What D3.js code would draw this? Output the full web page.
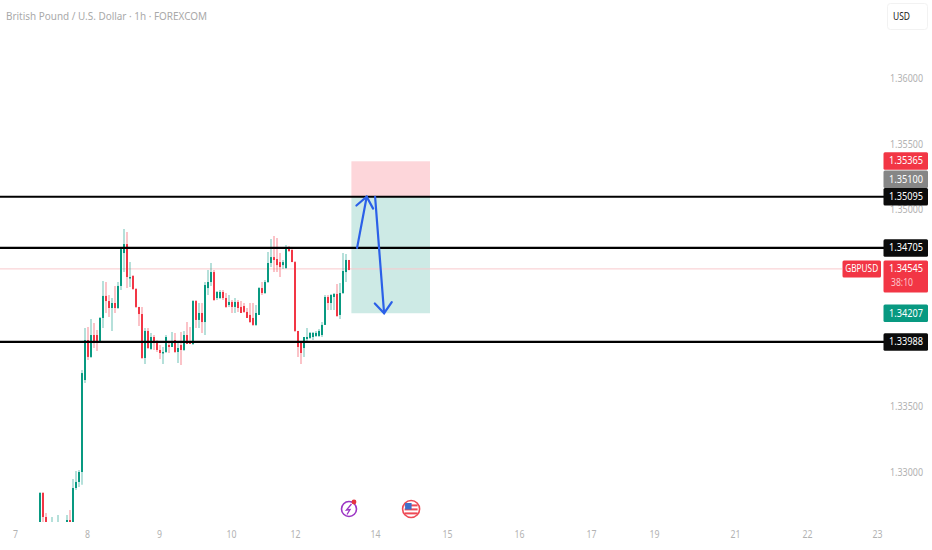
<!DOCTYPE html>
<html>
<head>
<meta charset="utf-8">
<script src="https://cdn.jsdelivr.net/npm/d3@7"></script>
<style>
html, body { margin: 0; padding: 0; background: #fff; overflow: hidden; }
text { font-family: "Noto Sans", sans-serif; lengthAdjust: spacingAndGlyphs; }
</style>
</head>
<body>
<svg id="chart" width="932" height="550"></svg>
<script>
const title = 'British Pound / U.S. Dollar · 1h · FOREXCOM';

// hourly candles (first ones run below the pane)
const opens = [1.32550,1.32837,1.32654,1.32550,1.32560,1.32580,1.32540,1.32570,1.32550,1.32580,1.32631,1.32590,1.32875,1.32921,1.32997,1.33698,
  1.34003,1.33874,1.34041,1.34041,1.33988,1.34171,1.34339,1.34300,1.34247,1.34285,1.34247,1.34415,1.34666,1.34734,1.34476,1.34491,
  1.34392,1.34255,1.34201,1.33866,1.34072,1.33935,1.34026,1.33980,1.33927,1.33904,1.33912,1.33965,1.33950,1.34003,1.33912,1.33965,
  1.33927,1.34041,1.33988,1.33973,1.34300,1.34156,1.34209,1.34140,1.34399,1.34445,1.34521,1.34323,1.34323,1.34369,1.34323,1.34270,
  1.34293,1.34255,1.34293,1.34255,1.34262,1.34217,1.34194,1.34171,1.34118,1.34194,1.34399,1.34361,1.34445,1.34590,1.34635,1.34620,
  1.34597,1.34574,1.34552,1.34704,1.34689,1.34597,1.34072,1.33988,1.33942,1.34011,1.34019,1.34026,1.34034,1.34034,1.34041,1.34118,
  1.34331,1.34285,1.34331,1.34354,1.34194,1.34361,1.34521,1.34613];
const highs = [1.32844,1.32844,1.32684,1.32580,1.32654,1.32600,1.32669,1.32610,1.32600,1.32669,1.32707,1.32944,1.33004,1.33012,1.33774,1.34095,
  1.34102,1.34163,1.34133,1.34079,1.34179,1.34453,1.34445,1.34346,1.34323,1.34415,1.34445,1.34704,1.34849,1.34826,1.34597,1.34498,
  1.34399,1.34255,1.34255,1.34095,1.34095,1.34057,1.34041,1.34003,1.33965,1.33950,1.34041,1.33988,1.34064,1.34057,1.33980,1.34064,
  1.34072,1.34140,1.34102,1.34308,1.34308,1.34285,1.34285,1.34445,1.34536,1.34590,1.34536,1.34377,1.34384,1.34384,1.34361,1.34346,
  1.34308,1.34323,1.34308,1.34300,1.34285,1.34247,1.34285,1.34285,1.34270,1.34407,1.34445,1.34460,1.34674,1.34772,1.34795,1.34780,
  1.34666,1.34613,1.34727,1.34719,1.34704,1.34605,1.34072,1.33988,1.34026,1.34095,1.34064,1.34064,1.34072,1.34087,1.34140,1.34346,
  1.34346,1.34354,1.34361,1.34430,1.34437,1.34666,1.34658,1.34613];
const lows = [1.32500,1.32610,1.32520,1.32450,1.32500,1.32500,1.32500,1.32520,1.32500,1.32530,1.32550,1.32550,1.32860,1.32883,1.32900,1.33675,
  1.33851,1.33866,1.33942,1.33919,1.33980,1.34095,1.34209,1.34179,1.34072,1.34209,1.34240,1.34384,1.34521,1.34399,1.34407,1.34384,
  1.34247,1.34110,1.33858,1.33820,1.33935,1.33927,1.33927,1.33912,1.33858,1.33820,1.33904,1.33904,1.33950,1.33904,1.33828,1.33813,
  1.33919,1.33973,1.33973,1.33965,1.34095,1.34095,1.34057,1.34041,1.34346,1.34415,1.34300,1.34308,1.34316,1.34308,1.34247,1.34255,
  1.34209,1.34209,1.34217,1.34209,1.34209,1.34171,1.34133,1.34110,1.34110,1.34194,1.34346,1.34354,1.34437,1.34559,1.34521,1.34521,
  1.34483,1.34544,1.34544,1.34674,1.34597,1.34064,1.33874,1.33820,1.33874,1.33988,1.34011,1.34003,1.34026,1.34026,1.34026,1.34118,
  1.34232,1.34232,1.34232,1.34179,1.34163,1.34354,1.34445,1.34536];
const closes = [1.32837,1.32654,1.32560,1.32500,1.32580,1.32540,1.32570,1.32550,1.32580,1.32631,1.32590,1.32875,1.32921,1.32997,1.33751,1.34003,
  1.33874,1.34041,1.33980,1.33988,1.34171,1.34339,1.34300,1.34247,1.34285,1.34247,1.34415,1.34696,1.34734,1.34483,1.34483,1.34392,
  1.34255,1.34201,1.33866,1.34072,1.33942,1.34026,1.33980,1.33927,1.33904,1.33912,1.34026,1.33950,1.33988,1.33912,1.33942,1.33927,
  1.34041,1.33973,1.33973,1.34300,1.34156,1.34209,1.34140,1.34422,1.34445,1.34521,1.34308,1.34369,1.34369,1.34323,1.34255,1.34293,
  1.34255,1.34293,1.34247,1.34209,1.34217,1.34171,1.34140,1.34118,1.34209,1.34399,1.34361,1.34445,1.34590,1.34635,1.34613,1.34574,
  1.34559,1.34597,1.34704,1.34681,1.34597,1.34072,1.33950,1.33904,1.34026,1.34026,1.34057,1.34057,1.34057,1.34072,1.34118,1.34331,
  1.34285,1.34346,1.34354,1.34186,1.34361,1.34529,1.34613,1.34536];

// axes
const dayLabels = ['7','8','9','10','12','14','15','16','17','19','21','22','23'];
const dayBars = [-8.3,15.7,39.7,63.7,85,111.7,135.7,159.7,183.7,204.7,231.7,255.7,279];
const priceTicks = [1.36, 1.355, 1.35, 1.335, 1.33];

// drawings
const levels = [1.35095, 1.34705, 1.33988];
const lastPrice = 1.34545;
const positionBars = [103.8, 130];
const positionPrices = [1.35365, 1.35095, 1.34207];
const arrowUp = [[105.7, 1.34705], [108.9, 1.35095]];
const arrowDown = [[111.7, 1.35095], [114.7, 1.34207]];
const eventBars = [103, 123.7];

// price labels: text, centre price (stacked ones get pushed apart), fill
const labelTexts = ['1.35365', '1.35100', '1.35095', '1.34705', '1.34207', '1.33988'];
const labelPrices = [1.35367, 1.35228, 1.35095, 1.34705, 1.34207, 1.33988];
const labelFills = ['#f23645', '#868686', '#0b0b0b', '#0b0b0b', '#089981', '#0b0b0b'];

const up = '#089981', down = '#f23645';
const svg = d3.select('#chart');
const x = d3.scaleLinear().domain([0, 1]).range([40, 43]);
const y = d3.scaleLinear().domain([1.36, 1.33]).range([78, 471.6]);

// the reference font is narrower than anything installed, so squeeze to width
function squeeze(sel, width) {
    return sel.attr('textLength', width).attr('lengthAdjust', 'spacingAndGlyphs');
}

svg.append('rect').attr('width', 932).attr('height', 550).attr('fill', '#fff');
svg.append('defs').append('clipPath').attr('id', 'pane')
    .append('rect').attr('width', 883).attr('height', 522);

// position tool behind everything
const pos = svg.append('g').attr('clip-path', 'url(#pane)');
pos.append('rect')
    .attr('x', x(positionBars[0])).attr('width', x(positionBars[1]) - x(positionBars[0]))
    .attr('y', y(positionPrices[0])).attr('height', y(positionPrices[1]) - y(positionPrices[0]))
    .attr('fill', '#fdd6da');
pos.append('rect')
    .attr('x', x(positionBars[0])).attr('width', x(positionBars[1]) - x(positionBars[0]))
    .attr('y', y(positionPrices[1])).attr('height', y(positionPrices[2]) - y(positionPrices[1]))
    .attr('fill', '#cdeae5');

// last price line
svg.append('line')
    .attr('x1', 0).attr('x2', 842).attr('y1', y(lastPrice)).attr('y2', y(lastPrice))
    .attr('stroke', '#f9c9cd').attr('stroke-width', 1);

// candles
const candles = svg.append('g').attr('clip-path', 'url(#pane)');
const idx = d3.range(opens.length);
const color = i => closes[i] >= opens[i] ? up : down;
candles.selectAll('line').data(idx).enter().append('line')
    .attr('x1', i => x(i)).attr('x2', i => x(i))
    .attr('y1', i => y(highs[i])).attr('y2', i => y(lows[i]))
    .attr('stroke', color).attr('stroke-opacity', 0.4).attr('stroke-width', 1.5);
candles.selectAll('rect').data(idx).enter().append('rect')
    .attr('x', i => x(i) - 1).attr('width', 2)
    .attr('y', i => Math.min(y(opens[i]), y(closes[i])))
    .attr('height', i => Math.max(1.5, Math.abs(y(opens[i]) - y(closes[i]))))
    .attr('fill', color);

// horizontal levels
svg.append('g').selectAll('line').data(levels).enter().append('line')
    .attr('x1', 0).attr('x2', 884).attr('y1', d => y(d)).attr('y2', d => y(d))
    .attr('stroke', '#000').attr('stroke-width', 2.2);

// hand drawn arrows
function drawArrow(seg) {
    const x1 = x(seg[0][0]), y1 = y(seg[0][1]), x2 = x(seg[1][0]), y2 = y(seg[1][1]);
    const a = Math.atan2(y1 - y2, x1 - x2), spread = 39 * Math.PI / 180, len = 13.5;
    const head = s => [x2 + len * Math.cos(a + s), y2 + len * Math.sin(a + s)];
    const line = d3.line();
    svg.append('path').attr('d', line([[x1, y1], [x2, y2]]));
    svg.append('path').attr('d', line([head(spread), [x2, y2], head(-spread)]));
}
drawArrow(arrowUp);
drawArrow(arrowDown);
svg.selectAll('path')
    .attr('fill', 'none').attr('stroke', '#2b60e8').attr('stroke-width', 2.2).attr('stroke-linecap', 'round');

// axes
const axisFont = '"Noto Sans", sans-serif';
const yAxis = svg.append('g').attr('transform', 'translate(889,0)')
    .call(d3.axisRight(y).tickValues(priceTicks).tickSize(0).tickPadding(1).tickFormat(d3.format('.5f')));
yAxis.select('.domain').remove();
squeeze(yAxis.selectAll('text'), 33).attr('fill', '#b2b2b2').attr('font-size', 11).style('font-family', axisFont);

const xAxis = svg.append('g').attr('transform', 'translate(0,528)')
    .call(d3.axisBottom(x).tickValues(dayBars).tickSize(0).tickPadding(2)
        .tickFormat((d, i) => dayLabels[i]));
xAxis.select('.domain').remove();
xAxis.selectAll('text').attr('fill', '#b2b2b2').attr('font-size', 11.5).style('font-family', axisFont)
    .attr('textLength', (d, i) => dayLabels[i].length * 5).attr('lengthAdjust', 'spacingAndGlyphs');

// right hand price labels
const labels = svg.append('g');
labelTexts.forEach((t, i) => {
    const cy = y(labelPrices[i]);
    labels.append('rect').attr('x', 883.5).attr('y', cy - 8.7).attr('width', 44.5).attr('height', 17.5)
        .attr('rx', 1.5).attr('fill', labelFills[i]);
    squeeze(labels.append('text'), 34).attr('x', 906).attr('y', cy + 0.4).attr('text-anchor', 'middle')
        .attr('dominant-baseline', 'middle').attr('font-size', 11).attr('fill', '#fff').text(t);
});

// current price flag and countdown
const lastY = y(lastPrice);
svg.append('rect').attr('x', 842.5).attr('y', lastY - 8.5).attr('width', 38.5).attr('height', 17)
    .attr('rx', 1.5).attr('fill', down);
squeeze(svg.append('text'), 33).attr('x', 861.7).attr('y', lastY + 0.4).attr('text-anchor', 'middle')
    .attr('dominant-baseline', 'middle').attr('font-size', 11).attr('fill', '#fff').text('GBPUSD');
svg.append('rect').attr('x', 883.5).attr('y', lastY - 8.5).attr('width', 44.5).attr('height', 32)
    .attr('rx', 1.5).attr('fill', down);
squeeze(svg.append('text'), 34).attr('x', 906).attr('y', lastY + 0.4).attr('text-anchor', 'middle')
    .attr('dominant-baseline', 'middle').attr('font-size', 11).attr('fill', '#fff').text('1.34545');
squeeze(svg.append('text'), 22).attr('x', 902).attr('y', lastY + 14.5).attr('text-anchor', 'middle')
    .attr('dominant-baseline', 'middle').attr('font-size', 11).attr('fill', '#fcc4c9').text('38:10');

// title and currency button
squeeze(svg.append('text'), 201).attr('x', 6).attr('y', 20).attr('font-size', 11.5).attr('fill', '#a9a9a9').text(title);
svg.append('rect').attr('x', 887.5).attr('y', 3.5).attr('width', 40).attr('height', 26).attr('rx', 3)
    .attr('fill', '#fff').attr('stroke', '#f2f2f2');
squeeze(svg.append('text'), 17).attr('x', 901.5).attr('y', 20).attr('text-anchor', 'middle').attr('font-size', 11)
    .attr('fill', '#1a1a1a').text('USD');

// event icons under the candles
const ev = svg.append('g').attr('transform', `translate(${x(eventBars[0])},509)`);
ev.append('circle').attr('r', 7.5).attr('fill', '#fff').attr('stroke', '#9c35c4').attr('stroke-width', 1.6);
ev.append('path').attr('d', 'M2.5,-5 L-2.5,1 L1,0.5 L-2,5.5 M2.5,-5')
    .attr('fill', 'none').attr('stroke', '#9c35c4').attr('stroke-width', 1.3);
ev.append('circle').attr('cx', 5).attr('cy', -7).attr('r', 2.4).attr('fill', '#e5323f');

const flag = svg.append('g').attr('transform', `translate(${x(eventBars[1])},509)`);
flag.append('circle').attr('r', 8.5).attr('fill', '#fff').attr('stroke', '#ee4a55').attr('stroke-width', 1.6);
[-3.6, 0.4, 4.4].forEach(d => flag.append('rect')
    .attr('x', -6.5).attr('y', d - 1).attr('width', 13).attr('height', 2).attr('fill', '#ee4a55'));
flag.append('rect').attr('x', -6).attr('y', -6).attr('width', 6.5).attr('height', 6.5).attr('fill', '#3f6fc9');
</script>
</body>
</html>
